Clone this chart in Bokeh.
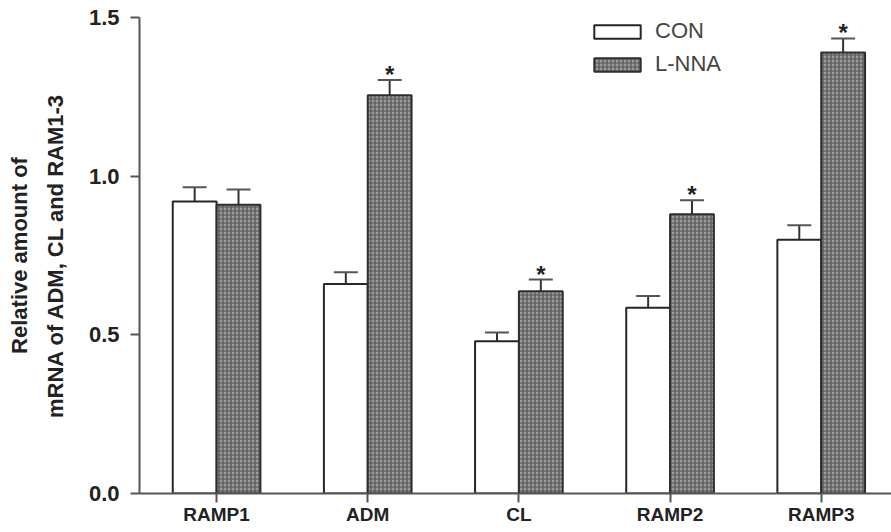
import numpy as np
from bokeh.plotting import figure
from bokeh.models import (ColumnDataSource, Range1d, FixedTicker, PrintfTickFormatter,
                          Whisker, TeeHead, Legend, LegendItem)
from bokeh.core.properties import value
from bokeh.embed import file_html
from bokeh.resources import INLINE

# Relative mRNA levels (mean and SEM) for control and L-NNA treated groups
categories = ["RAMP1", "ADM", "CL", "RAMP2", "RAMP3"]
con_mean = [0.92, 0.66, 0.48, 0.585, 0.80]
con_sem = [0.045, 0.037, 0.027, 0.037, 0.045]
lnna_mean = [0.91, 1.255, 0.637, 0.88, 1.39]
lnna_sem = [0.048, 0.048, 0.037, 0.044, 0.044]
significant = [False, True, True, True, True]
y_ticks = [0.0, 0.5, 1.0, 1.5]

bar_w = 0.29
pos = np.arange(len(categories))

con_src = ColumnDataSource(dict(
    x=pos - bar_w / 2, top=con_mean,
    upper=[m + s for m, s in zip(con_mean, con_sem)]))
lnna_src = ColumnDataSource(dict(
    x=pos + bar_w / 2, top=lnna_mean,
    upper=[m + s for m, s in zip(lnna_mean, lnna_sem)]))
star_src = ColumnDataSource(dict(
    x=[p + bar_w / 2 for p, s in zip(pos, significant) if s],
    y=[m + s for m, s, f in zip(lnna_mean, lnna_sem, significant) if f],
    t=["*" for f in significant if f]))

p = figure(width=891, height=532, output_backend="svg", toolbar_location=None,
           x_range=Range1d(-0.51, 4.465), y_range=Range1d(0, 1.5),
           min_border_left=139, min_border_right=0, min_border_top=17,
           min_border_bottom=39)
p.outline_line_color = None
p.grid.visible = False
p.background_fill_color = "white"
p.border_fill_color = "white"

font = "Liberation Sans"

con_r = p.vbar(x="x", top="top", width=bar_w, bottom=0, source=con_src,
               fill_color="white", line_color="#262626", line_width=2)
lnna_r = p.vbar(x="x", top="top", width=bar_w, bottom=0, source=lnna_src,
                fill_color="#9a9a9a", line_color="#2e2e2e", line_width=2,
                hatch_pattern="+", hatch_color="#555555", hatch_scale=4,
                hatch_weight=1.2)

for src in (con_src, lnna_src):
    w = Whisker(source=src, base="x", upper="upper", lower="top",
                dimension="height", line_color="#333333", line_width=2,
                upper_head=TeeHead(size=24, line_color="#555555", line_width=2),
                lower_head=None)
    p.add_layout(w)

p.text(x="x", y="y", text="t", source=star_src, text_align="center",
       text_baseline="bottom", text_font=value(font), text_font_style="bold",
       text_font_size="24px", text_color="#222222", y_offset=8)

# axes
p.xaxis.ticker = FixedTicker(ticks=list(pos))
p.xaxis.major_label_overrides = {int(i): c for i, c in zip(pos, categories)}
p.yaxis.ticker = FixedTicker(ticks=y_ticks)
p.yaxis.formatter = PrintfTickFormatter(format="%.1f")
p.axis.minor_tick_line_color = None
p.axis.major_tick_in = 0
p.axis.major_tick_out = 9
p.axis.axis_line_color = "#555555"
p.axis.axis_line_width = 2
p.axis.major_tick_line_color = "#555555"
p.axis.major_tick_line_width = 2
p.axis.major_label_text_font = font
p.axis.major_label_text_font_style = "bold"
p.axis.major_label_text_color = "#222222"
p.xaxis.major_label_text_font_size = "19px"
p.xaxis.major_label_standoff = 1
p.yaxis.major_label_text_font_size = "22px"
p.yaxis.major_label_standoff = 11

p.yaxis.axis_label = "Relative amount of\nmRNA of ADM, CL and RAM1-3"
p.yaxis.axis_label_text_font = font
p.yaxis.axis_label_text_font_style = "bold"
p.yaxis.axis_label_text_font_size = "22px"
p.yaxis.axis_label_text_color = "#222222"
p.yaxis.axis_label_text_line_height = 1.45
p.yaxis.axis_label_standoff = 18

legend = Legend(items=[LegendItem(label="CON", renderers=[con_r]),
                       LegendItem(label="L-NNA", renderers=[lnna_r])],
                location=(449, 416), orientation="vertical",
                glyph_width=58, glyph_height=17, label_standoff=9,
                spacing=7, padding=0, margin=0,
                label_text_font=font, label_text_font_size="22px",
                label_text_color="#444444",
                background_fill_alpha=0, border_line_color=None)
p.add_layout(legend)

open("out.html", "w").write(file_html(p, INLINE))
